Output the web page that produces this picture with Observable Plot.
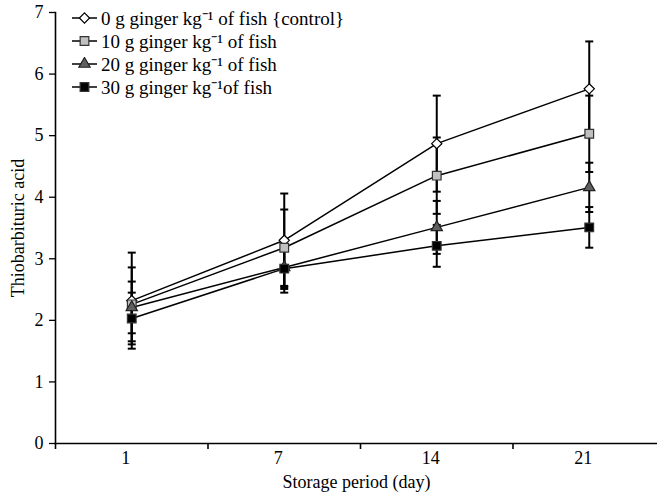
<!DOCTYPE html>
<html><head><meta charset="utf-8">
<script src="https://cdn.jsdelivr.net/npm/d3@7"></script>
<script src="https://cdn.jsdelivr.net/npm/@observablehq/plot@0.6"></script>
<style>
body{margin:0;background:#fff;}
#wrap{position:relative;width:657px;height:495px;font-family:"Liberation Serif","Times New Roman",serif;}
#legend{position:absolute;left:71px;top:6px;font-size:19px;color:#000;font-family:"Liberation Serif","Times New Roman",serif;}
.row{display:flex;align-items:center;height:23px;white-space:pre;}
.row svg{margin-right:3px;}
</style></head><body><div id="wrap"><div id="legend"></div></div>
<script>
const days = ["1", "7", "14", "21"];
const seriesNames = [
  "0 g ginger kg⁻¹ of fish {control}",
  "10 g ginger kg⁻¹ of fish",
  "20 g ginger kg⁻¹ of fish",
  "30 g ginger kg⁻¹of fish"
];
const tba0  = [2.32, 3.30, 4.87, 5.76];
const tba10 = [2.26, 3.18, 4.35, 5.03];
const tba20 = [2.21, 2.86, 3.51, 4.16];
const tba30 = [2.03, 2.84, 3.21, 3.51];
const err0  = [0.78, 0.76, 0.78, 0.77];
const err10 = [0.60, 0.62, 0.62, 0.62];
const err20 = [0.42, 0.35, 0.43, 0.40];
const err30 = [0.42, 0.39, 0.34, 0.33];
const yTicks = [0, 1, 2, 3, 4, 5, 6, 7];

const values = [tba0, tba10, tba20, tba30];
const errors = [err0, err10, err20, err30];

const styles = [
  {symbol: "diamond2", fill: "#ffffff", stroke: "#000", r: 4.6},
  {symbol: "square", fill: "#c0c0c0", stroke: "#333", r: 4.9},
  {symbol: "triangle", fill: "#606060", stroke: "#222", r: 4.2},
  {symbol: "square", fill: "#000000", stroke: "#333", r: 4.9}
];

const rows = [];
seriesNames.forEach((s, k) => days.forEach((d, i) => rows.push({
  series: s, k, day: d, pos: i + 0.5, v: values[k][i], e: errors[k][i]
})));

const cap = {
  draw(ctx, size) { const w = 4; ctx.moveTo(-w, 0); ctx.lineTo(w, 0); }
};

const font = "Liberation Serif, Times New Roman, serif";

const marks = [
  Plot.frame({anchor: "left", stroke: "#000", strokeWidth: 1.6}),
  Plot.frame({anchor: "bottom", stroke: "#000", strokeWidth: 1.6}),
  Plot.axisY({ticks: yTicks, tickSize: 6, tickPadding: 6, fontSize: 18, tickFormat: d3.format("d"),
    label: "Thiobarbituric acid", labelAnchor: "center", labelArrow: false, labelOffset: 44, strokeWidth: 1.3}),
  Plot.axisX({ticks: d3.range(0, days.length + 1), tickSize: 6, tickFormat: () => "", label: null, strokeWidth: 1.6}),
  Plot.axisX({ticks: days.map((d, i) => i + 0.5), tickSize: 0, tickPadding: 8, dx: -6, fontSize: 18,
    tickFormat: v => days[Math.round(v - 0.5)],
    label: "Storage period (day)", labelAnchor: "center", labelArrow: false, labelOffset: 44})
];

// error bars
marks.push(Plot.ruleX(rows, {x: "pos", y1: r => r.v - r.e, y2: r => r.v + r.e, stroke: "#000", strokeWidth: 2}));
marks.push(Plot.dot(rows, {x: "pos", y: r => r.v - r.e, symbol: cap, stroke: "#000", strokeWidth: 2, fill: "none"}));
marks.push(Plot.dot(rows, {x: "pos", y: r => r.v + r.e, symbol: cap, stroke: "#000", strokeWidth: 2, fill: "none"}));

seriesNames.forEach((s, k) => {
  const data = rows.filter(r => r.k === k);
  marks.push(Plot.line(data, {x: "pos", y: "v", stroke: "#000", strokeWidth: 1.5}));
});
seriesNames.forEach((s, k) => {
  const data = rows.filter(r => r.k === k);
  const st = styles[k];
  marks.push(Plot.dot(data, {x: "pos", y: "v", symbol: st.symbol, r: st.r, fill: st.fill, stroke: st.stroke, strokeWidth: 1.2}));
});

const chart = Plot.plot({
  width: 657, height: 495,
  marginLeft: 55, marginRight: 0, marginTop: 12, marginBottom: 52,
  style: {fontFamily: font, fontSize: "18px", color: "#000", background: "#fff", overflow: "hidden"},
  x: {type: "linear", domain: [0, days.length], range: [55, 665]},
  y: {domain: [0, 7], range: [443, 12]},
  marks
});
document.getElementById("wrap").prepend(chart);

// legend
const legend = document.getElementById("legend");
const symMap = {diamond2: d3.symbolDiamond2, square: d3.symbolSquare, triangle: d3.symbolTriangle};
seriesNames.forEach((s, k) => {
  const st = styles[k];
  const row = document.createElement("div");
  row.className = "row";
  const svg = d3.create("svg").attr("width", 27).attr("height", 14);
  svg.append("line").attr("x1", 1).attr("x2", 26).attr("y1", 7).attr("y2", 7).attr("stroke", "#000").attr("stroke-width", 1.5);
  svg.append("path").attr("transform", "translate(13.5,7)")
    .attr("d", d3.symbol(symMap[st.symbol], st.r * st.r * Math.PI)())
    .attr("fill", st.fill).attr("stroke", st.stroke).attr("stroke-width", 1.2);
  row.appendChild(svg.node());
  const span = document.createElement("span");
  span.textContent = s;
  row.appendChild(span);
  legend.appendChild(row);
});
</script></body></html>
